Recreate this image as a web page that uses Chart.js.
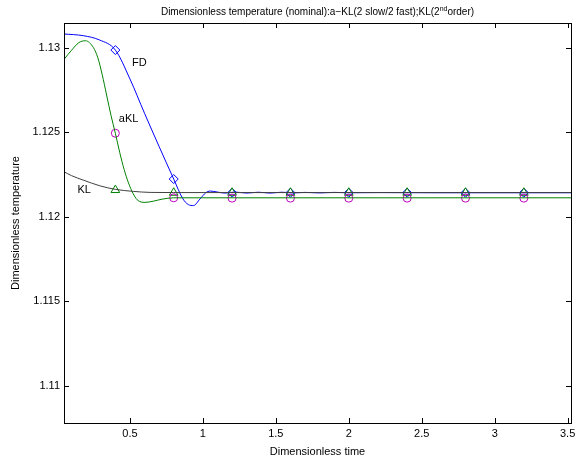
<!DOCTYPE html>
<html>
<head>
<meta charset="utf-8">
<script src="https://cdn.jsdelivr.net/npm/chart.js@4/dist/chart.umd.min.js"></script>
<style>
  body { margin: 0; background: #fff; }
  canvas { display: block; }
</style>
</head>
<body>
<canvas id="chart" width="584" height="463"></canvas>
<script>
// Axis ticks
const xTicks = [0.5, 1, 1.5, 2, 2.5, 3, 3.5];
const yTicks = [1.11, 1.115, 1.12, 1.125, 1.13];

// FD curve (blue)
const fdX = [0.048, 0.18, 0.29, 0.40, 0.50, 0.60, 0.70, 0.80, 0.86, 0.90, 0.935, 0.98, 1.02, 1.05, 1.10, 1.15,
             1.22, 1.30, 1.38, 1.46, 1.54, 1.62, 1.70, 1.80, 1.90, 2.00, 2.20, 2.60, 3.00, 3.523];
const fdY = [1.13081, 1.13071, 1.13046, 1.12986, 1.12815, 1.12612, 1.12415, 1.12223, 1.12110, 1.12072, 1.12066, 1.12105, 1.12142, 1.12152, 1.12146, 1.12140,
             1.12146, 1.12140, 1.12145, 1.12140, 1.12145, 1.12141, 1.12144, 1.12141, 1.12144, 1.12142, 1.12143, 1.12142, 1.12142, 1.12142];

// aKL curve (green)
const akX = [0.048, 0.10, 0.15, 0.195, 0.25, 0.28, 0.31, 0.34, 0.37, 0.40, 0.43, 0.46, 0.49, 0.52, 0.55, 0.603, 0.66, 0.72, 0.80, 1.0, 3.523];
const akY = [1.12931, 1.12985, 1.13030, 1.13041, 1.13000, 1.12940, 1.12840, 1.12720, 1.12600, 1.12494, 1.12380, 1.12280, 1.12200, 1.12140, 1.12100, 1.12085, 1.12092, 1.12104, 1.12112, 1.12112, 1.12112];

// KL curve (dark grey)
const klX = [0.048, 0.10, 0.179, 0.294, 0.40, 0.523, 0.638, 0.80, 3.523];
const klY = [1.12266, 1.12243, 1.12217, 1.12183, 1.12162, 1.12150, 1.12144, 1.12143, 1.12143];

// Markers
const markX = [0.4, 0.8, 1.2, 1.6, 2.0, 2.4, 2.8, 3.2];
const fdMarkY = [1.12986, 1.12223, 1.12142, 1.12142, 1.12142, 1.12142, 1.12142, 1.12142];
const akMarkY = [1.12494, 1.12112, 1.12110, 1.12110, 1.12110, 1.12110, 1.12110, 1.12110];
const klMarkY = [1.12158, 1.12142, 1.12142, 1.12142, 1.12142, 1.12142, 1.12142, 1.12142];

// Curve labels
const curveLabels = [
    { text: 'FD', x: 0.514, y: 1.12911 },
    { text: 'aKL', x: 0.424, y: 1.12578 },
    { text: 'KL', x: 0.140, y: 1.12158 }
];

const toPts = (xs, ys) => xs.map((x, i) => ({ x: x, y: ys[i] }));

const FONT = 'Liberation Sans, Arial, Helvetica, sans-serif';

const lineSet = (data, color) => ({
    data: data,
    showLine: true,
    borderColor: color,
    borderWidth: 1,
    pointRadius: 0,
    pointHoverRadius: 0,
    fill: false,
    cubicInterpolationMode: 'monotone'
});

const markSet = (data, color, style, r) => ({
    data: data,
    showLine: false,
    borderColor: color,
    backgroundColor: 'rgba(0,0,0,0)',
    borderWidth: 1,
    pointStyle: style,
    pointRadius: r,
    pointHoverRadius: r
});

// frame, inward ticks, titles and labels
const decor = {
    id: 'decor',
    afterDraw(chart) {
        const ctx = chart.ctx;
        const a = chart.chartArea;
        const xs = chart.scales.x, ys = chart.scales.y;
        ctx.save();
        ctx.strokeStyle = '#000';
        ctx.lineWidth = 1;
        ctx.strokeRect(Math.round(a.left) + 0.5, Math.round(a.top) + 0.5,
            Math.round(a.right - a.left), Math.round(a.bottom - a.top));
        ctx.beginPath();
        xTicks.forEach(v => {
            const px = Math.round(xs.getPixelForValue(v)) + 0.5;
            ctx.moveTo(px, a.bottom); ctx.lineTo(px, a.bottom - 5);
            ctx.moveTo(px, a.top); ctx.lineTo(px, a.top + 5);
        });
        yTicks.forEach(v => {
            const py = Math.round(ys.getPixelForValue(v)) + 0.5;
            ctx.moveTo(a.left, py); ctx.lineTo(a.left + 5, py);
            ctx.moveTo(a.right, py); ctx.lineTo(a.right - 5, py);
        });
        ctx.stroke();

        ctx.fillStyle = '#000';
        ctx.font = '11px ' + FONT;
        ctx.textBaseline = 'middle';
        ctx.textAlign = 'left';
        curveLabels.forEach(l => {
            ctx.fillText(l.text, xs.getPixelForValue(l.x), ys.getPixelForValue(l.y));
        });

        // axis titles
        const cx = (a.left + a.right) / 2;
        const cy = (a.top + a.bottom) / 2;
        ctx.textAlign = 'center';
        ctx.fillText('Dimensionless time', cx, 452);
        ctx.save();
        ctx.translate(16, cy);
        ctx.rotate(-Math.PI / 2);
        ctx.fillText('Dimensionless temperature', 0, 0);
        ctx.restore();

        // title with superscript
        const t1 = 'Dimensionless temperature (nominal):a\u2212KL(2 slow/2 fast);KL(2';
        const t2 = 'nd';
        const t3 = 'order)';
        ctx.textBaseline = 'alphabetic';
        ctx.textAlign = 'left';
        ctx.font = '10px ' + FONT;
        const w1 = ctx.measureText(t1).width, w3 = ctx.measureText(t3).width;
        ctx.font = '7px ' + FONT;
        const w2 = ctx.measureText(t2).width;
        let x0 = cx - (w1 + w2 + w3) / 2;
        const base = 15;
        ctx.font = '10px ' + FONT;
        ctx.fillText(t1, x0, base);
        ctx.font = '7px ' + FONT;
        ctx.fillText(t2, x0 + w1, base - 4);
        ctx.font = '10px ' + FONT;
        ctx.fillText(t3, x0 + w1 + w2, base);
        ctx.restore();
    }
};

new Chart(document.getElementById('chart'), {
    type: 'scatter',
    data: {
        datasets: [
            lineSet(toPts(klX, klY), '#404040'),
            lineSet(toPts(akX, akY), '#008000'),
            lineSet(toPts(fdX, fdY), '#0000ff'),
            markSet(toPts(markX, akMarkY), '#bf00bf', 'circle', 4),
            markSet(toPts(markX, klMarkY), '#008000', 'triangle', 5),
            markSet(toPts(markX, fdMarkY), '#0000ff', 'rectRot', 4.5)
        ]
    },
    options: {
        responsive: false,
        animation: false,
        layout: { padding: { top: 23, right: 13, left: 0, bottom: 0 } },
        plugins: {
            legend: { display: false },
            tooltip: { enabled: false },
            title: { display: false }
        },
        scales: {
            x: {
                type: 'linear',
                min: 0.048,
                max: 3.523,
                afterFit: s => { s.height = 40; },
                afterBuildTicks: s => { s.ticks = xTicks.map(v => ({ value: v })); },
                grid: { display: false, drawTicks: false },
                border: { display: false },
                ticks: {
                    padding: 4,
                    maxRotation: 0,
                    color: '#000',
                    font: { family: FONT, size: 11 },
                    callback: v => String(v)
                }
            },
            y: {
                type: 'linear',
                min: 1.1078,
                max: 1.13146,
                afterFit: s => { s.width = 64; },
                afterBuildTicks: s => { s.ticks = yTicks.map(v => ({ value: v })); },
                grid: { display: false, drawTicks: false },
                border: { display: false },
                ticks: {
                    padding: 4,
                    color: '#000',
                    font: { family: FONT, size: 11 },
                    callback: v => String(Number(v.toFixed(3)))
                }
            }
        }
    },
    plugins: [decor]
});
</script>
</body>
</html>
